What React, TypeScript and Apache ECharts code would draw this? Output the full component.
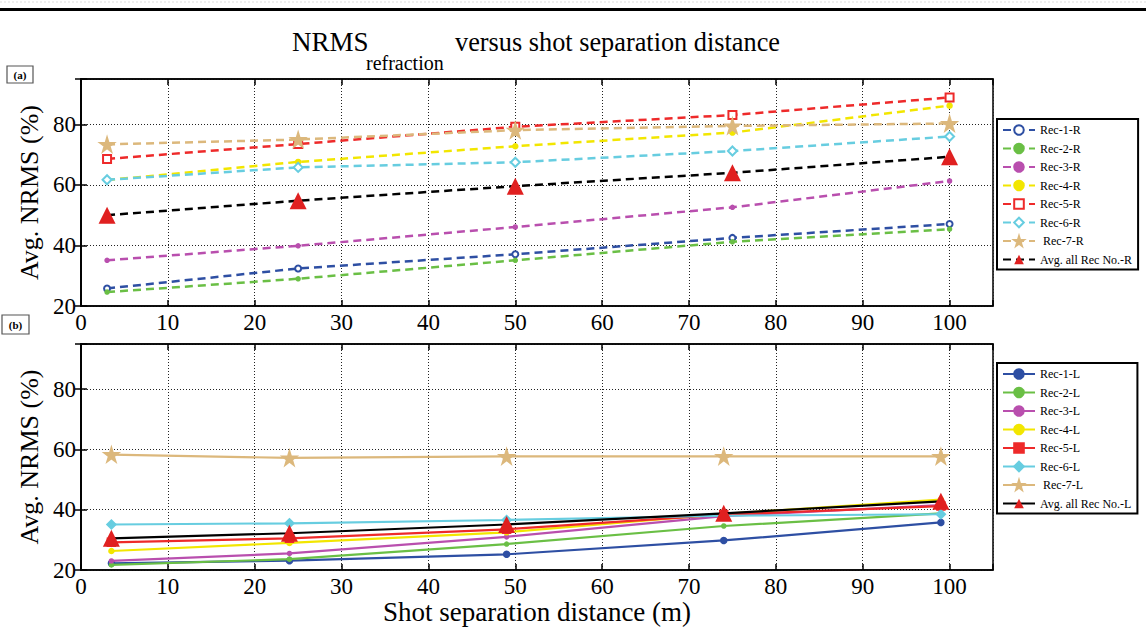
import React, { useEffect, useRef } from "react";
import * as echarts from "echarts";

// ---- data ----
const xR = [3, 25, 50, 75, 100];
const xL = [3.5, 24, 49, 74, 99];

const namesR = ["Rec-1-R", "Rec-2-R", "Rec-3-R", "Rec-4-R", "Rec-5-R", "Rec-6-R", " Rec-7-R", "Avg. all Rec No.-R"];
const namesL = ["Rec-1-L", "Rec-2-L", "Rec-3-L", "Rec-4-L", "Rec-5-L", "Rec-6-L", " Rec-7-L", "Avg. all Rec No.-L"];

const rec1R = [25.8, 32.4, 37.1, 42.5, 47.1];
const rec2R = [24.6, 29.0, 35.1, 41.2, 45.4];
const rec3R = [35.1, 39.9, 46.1, 52.6, 61.3];
const rec4R = [61.6, 67.6, 72.8, 77.3, 86.2];
const rec5R = [68.6, 73.5, 79.2, 83.1, 88.9];
const rec6R = [61.7, 65.8, 67.5, 71.2, 76.0];
const rec7R = [73.4, 75.0, 78.1, 79.5, 80.3];
const avgR = [50.0, 54.8, 59.6, 64.0, 69.3];

const rec1L = [22.2, 23.1, 25.2, 29.8, 35.8];
const rec2L = [21.7, 23.6, 28.6, 34.6, 38.8];
const rec3L = [23.0, 25.5, 31.0, 37.9, 41.5];
const rec4L = [26.3, 29.0, 32.5, 38.6, 43.4];
const rec5L = [29.2, 30.5, 33.5, 38.4, 41.2];
const rec6L = [35.1, 35.5, 36.6, 38.0, 38.5];
const rec7L = [58.3, 57.2, 57.7, 57.7, 57.7];
const avgL = [30.5, 32.2, 35.1, 38.8, 42.8];

const xTicks = [0, 10, 20, 30, 40, 50, 60, 70, 80, 90, 100];
const yTicks = [20, 40, 60, 80];

const colors = ["#2e4fa3", "#6abf45", "#b94fae", "#f2e600", "#ee2a2a", "#67cde0", "#dcb87c", "#000000"];
const STAR = "path://M50,0 L61,35 L98,35 L68,57 L79,91 L50,70 L21,91 L32,57 L2,35 L39,35 Z";

const FONT = "'Liberation Serif', 'Times New Roman', serif";

export default function App() {
  const ref = useRef<HTMLDivElement>(null);
  useEffect(() => {
    if (!ref.current) return;
    const chart = echarts.init(ref.current, null, { renderer: "svg" });

    const valsR = [rec1R, rec2R, rec3R, rec4R, rec5R, rec6R, rec7R, avgR];
    const valsL = [rec1L, rec2L, rec3L, rec4L, rec5L, rec6L, rec7L, avgL];
    const symR = ["emptyCircle", "circle", "circle", "circle", "emptyRect", "emptyDiamond", STAR, "triangle"];
    const symL = ["circle", "circle", "circle", "circle", "rect", "diamond", STAR, "triangle"];
    const sizes = [6, 4, 4, 5, 8, 9, 15, 17];

    const mk = (names: string[], xs: number[], vals: number[][], syms: string[], dashed: boolean, gi: number) =>
      names.map((n, k) => ({
        name: n,
        type: "line",
        xAxisIndex: gi * 2,
        yAxisIndex: gi * 2,
        data: xs.map((x, i) => [x, vals[k][i]]),
        symbol: syms[k],
        symbolSize: sizes[k],
        showAllSymbol: true,
        z: k === 7 ? 10 : 2 + k,
        lineStyle: { color: colors[k], width: dashed ? 2.5 : 2.2, type: dashed ? [8, 5] : "solid" },
        itemStyle: { color: k === 7 ? "#e02020" : colors[k], borderColor: k === 7 ? "#e02020" : colors[k], borderWidth: k === 7 ? 0 : 1.5 },
      }));

    const xAxisBase = (gi: number, pos: string, showLabel: boolean, name?: string) => ({
      type: "value",
      gridIndex: gi,
      position: pos,
      min: 0,
      max: 105,
      interval: 10,
      name: name,
      nameLocation: "middle",
      nameGap: 24,
      nameTextStyle: { fontFamily: FONT, fontSize: 27, color: "#000" },
      axisLine: { show: true, lineStyle: { color: "#000", width: 1.5 } },
      axisTick: { show: true, inside: true, length: 6, lineStyle: { color: "#000", width: 1.5 } },
      axisLabel: {
        show: showLabel,
        fontFamily: FONT,
        fontSize: 23,
        color: "#000",
        margin: 5,
        formatter: (v: number) => (xTicks.indexOf(v) >= 0 ? String(v) : ""),
      },
      splitLine: pos === "bottom" ? { show: true, lineStyle: { color: "#222", type: [1, 2], width: 1 } } : { show: false },
    });

    const yAxisBase = (gi: number, pos: string, showLabel: boolean) => ({
      type: "value",
      gridIndex: gi,
      position: pos,
      min: 20,
      max: 95,
      interval: 20,
      name: pos === "left" ? "Avg. NRMS (%)" : undefined,
      nameLocation: "middle",
      nameGap: 38,
      nameRotate: 90,
      nameTextStyle: { fontFamily: FONT, fontSize: 26, color: "#000" },
      axisLine: { show: true, lineStyle: { color: "#000", width: 1.5 } },
      axisTick: { show: true, inside: true, length: 6, lineStyle: { color: "#000", width: 1.5 } },
      axisLabel: {
        show: showLabel,
        fontFamily: FONT,
        fontSize: 23,
        color: "#000",
        margin: 5,
        formatter: (v: number) => (yTicks.indexOf(v) >= 0 ? String(v) : ""),
      },
      splitLine: pos === "left" ? { show: true, lineStyle: { color: "#222", type: [1, 2], width: 1 } } : { show: false },
    });

    const legendBase = (names: string[], top: number) => ({
      orient: "vertical",
      left: 997,
      top: top,
      data: names,
      itemWidth: 32,
      itemHeight: 12,
      itemGap: 6.5,
      padding: [5, 6, 4, 5],
      borderColor: "#000",
      borderWidth: 2,
      backgroundColor: "#fff",
      textStyle: { fontFamily: FONT, fontSize: 12, color: "#000" },
      selectedMode: false,
    });

    chart.setOption({
      animation: false,
      backgroundColor: "#fff",
      grid: [
        { left: 81, top: 79, width: 912, height: 227, show: true, borderColor: "#000", borderWidth: 1.5 },
        { left: 81, top: 344, width: 912, height: 226, show: true, borderColor: "#000", borderWidth: 1.5 },
      ],
      xAxis: [
        xAxisBase(0, "bottom", true),
        xAxisBase(0, "top", false),
        xAxisBase(1, "bottom", true, "Shot separation distance (m)"),
        xAxisBase(1, "top", false),
      ],
      yAxis: [yAxisBase(0, "left", true), yAxisBase(0, "right", false), yAxisBase(1, "left", true), yAxisBase(1, "right", false)],
      legend: [legendBase(namesR, 119), legendBase(namesL, 363)],
      graphic: [
        { type: "rect", shape: { x: 0, y: 8, width: 1146, height: 3 }, style: { fill: "#000" } },
        { type: "line", shape: { x1: 0, y1: 2, x2: 1146, y2: 2 }, style: { stroke: "#ddd", lineWidth: 1, lineDash: [2, 2] } },
        { type: "text", x: 292, y: 42, style: { text: "NRMS", font: `27px ${FONT}`, fill: "#000", verticalAlign: "middle", align: "left" } },
        { type: "text", x: 366, y: 62.5, style: { text: "refraction", font: `20px ${FONT}`, fill: "#000", verticalAlign: "middle", align: "left" } },
        { type: "text", x: 455, y: 42, style: { text: "versus shot separation distance", font: `26.3px ${FONT}`, fill: "#000", verticalAlign: "middle", align: "left" } },
        { type: "rect", shape: { x: 7, y: 66, width: 26, height: 17 }, style: { fill: "#fff", stroke: "#555", lineWidth: 1.2 } },
        { type: "text", x: 20, y: 74.5, style: { text: "(a)", font: `bold 11px ${FONT}`, fill: "#000", verticalAlign: "middle", align: "center" } },
        { type: "rect", shape: { x: 2, y: 315, width: 27, height: 19 }, style: { fill: "#fff", stroke: "#555", lineWidth: 1.2 } },
        { type: "text", x: 15.5, y: 324.5, style: { text: "(b)", font: `bold 11px ${FONT}`, fill: "#000", verticalAlign: "middle", align: "center" } },
      ],
      series: [...mk(namesR, xR, valsR, symR, true, 0), ...mk(namesL, xL, valsL, symL, false, 1)],
    });
    return () => chart.dispose();
  }, []);
  return <div ref={ref} style={{ position: "fixed", left: 0, top: 0, width: 1146, height: 643 }} />;
}
